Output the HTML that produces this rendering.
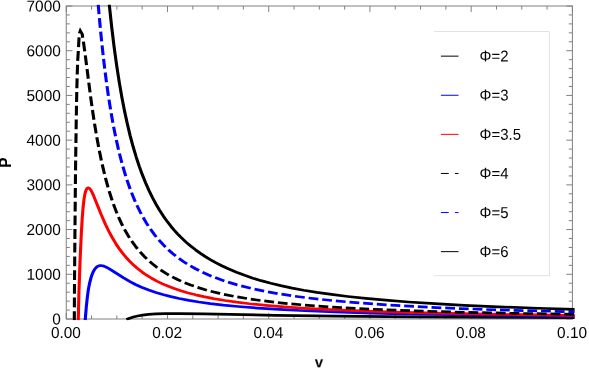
<!DOCTYPE html><html><head><meta charset="utf-8"><title>P-v</title>
<style>html,body{margin:0;padding:0;background:#fff}svg{display:block}text{font-family:"Liberation Sans",sans-serif;font-size:15.8px;fill:#000}</style></head><body>
<svg width="589" height="368" viewBox="0 0 589 368">
<rect width="589" height="368" fill="#fff"/>
<defs><clipPath id="c"><rect x="64.75" y="4.7" width="509.84999999999997" height="315.6"/></clipPath></defs>
<g stroke="#808080" stroke-width="1" fill="none">
<rect x="66.25" y="6.0" width="506.15" height="313.0"/>
<path d="M66.25,319.0v-6.1M66.25,6.0v6.1M91.56,319.0v-3.6M91.56,6.0v3.6M116.86,319.0v-3.6M116.86,6.0v3.6M142.17,319.0v-3.6M142.17,6.0v3.6M167.48,319.0v-6.1M167.48,6.0v6.1M192.79,319.0v-3.6M192.79,6.0v3.6M218.09,319.0v-3.6M218.09,6.0v3.6M243.40,319.0v-3.6M243.40,6.0v3.6M268.71,319.0v-6.1M268.71,6.0v6.1M294.02,319.0v-3.6M294.02,6.0v3.6M319.32,319.0v-3.6M319.32,6.0v3.6M344.63,319.0v-3.6M344.63,6.0v3.6M369.94,319.0v-6.1M369.94,6.0v6.1M395.25,319.0v-3.6M395.25,6.0v3.6M420.56,319.0v-3.6M420.56,6.0v3.6M445.86,319.0v-3.6M445.86,6.0v3.6M471.17,319.0v-6.1M471.17,6.0v6.1M496.48,319.0v-3.6M496.48,6.0v3.6M521.78,319.0v-3.6M521.78,6.0v3.6M547.09,319.0v-3.6M547.09,6.0v3.6M572.40,319.0v-6.1M572.40,6.0v6.1M66.25,319.00h6.1M572.4,319.00h-6.1M66.25,310.06h3.6M572.4,310.06h-3.6M66.25,301.11h3.6M572.4,301.11h-3.6M66.25,292.17h3.6M572.4,292.17h-3.6M66.25,283.23h3.6M572.4,283.23h-3.6M66.25,274.29h6.1M572.4,274.29h-6.1M66.25,265.34h3.6M572.4,265.34h-3.6M66.25,256.40h3.6M572.4,256.40h-3.6M66.25,247.46h3.6M572.4,247.46h-3.6M66.25,238.51h3.6M572.4,238.51h-3.6M66.25,229.57h6.1M572.4,229.57h-6.1M66.25,220.63h3.6M572.4,220.63h-3.6M66.25,211.69h3.6M572.4,211.69h-3.6M66.25,202.74h3.6M572.4,202.74h-3.6M66.25,193.80h3.6M572.4,193.80h-3.6M66.25,184.86h6.1M572.4,184.86h-6.1M66.25,175.91h3.6M572.4,175.91h-3.6M66.25,166.97h3.6M572.4,166.97h-3.6M66.25,158.03h3.6M572.4,158.03h-3.6M66.25,149.09h3.6M572.4,149.09h-3.6M66.25,140.14h6.1M572.4,140.14h-6.1M66.25,131.20h3.6M572.4,131.20h-3.6M66.25,122.26h3.6M572.4,122.26h-3.6M66.25,113.31h3.6M572.4,113.31h-3.6M66.25,104.37h3.6M572.4,104.37h-3.6M66.25,95.43h6.1M572.4,95.43h-6.1M66.25,86.49h3.6M572.4,86.49h-3.6M66.25,77.54h3.6M572.4,77.54h-3.6M66.25,68.60h3.6M572.4,68.60h-3.6M66.25,59.66h3.6M572.4,59.66h-3.6M66.25,50.71h6.1M572.4,50.71h-6.1M66.25,41.77h3.6M572.4,41.77h-3.6M66.25,32.83h3.6M572.4,32.83h-3.6M66.25,23.89h3.6M572.4,23.89h-3.6M66.25,14.94h3.6M572.4,14.94h-3.6M66.25,6.00h6.1M572.4,6.00h-6.1"/>
</g>
<g clip-path="url(#c)"><g transform="scale(1.15,1)" fill="none" stroke-width="2.7" stroke-linejoin="miter" stroke-miterlimit="10">
<path d="M109.91,319.50 112.66,318.20 115.95,316.98 119.66,315.96 123.99,315.11 129.14,314.43 135.53,313.92 143.97,313.62 155.80,313.56 177.16,313.91 239.83,315.30 292.52,316.14 359.46,316.85 452.04,317.46 500.47,317.68" stroke="#000" stroke-linejoin="round"/>
<path d="M74.10,320.20 75.08,306.39 76.07,295.86 76.92,289.04 78.05,282.59 79.16,277.66 80.18,274.16 81.28,271.31 82.36,269.21 83.43,267.70 84.40,266.73 85.45,266.04 86.49,265.66 87.73,265.53 89.17,265.77 90.82,266.37 92.88,267.46 96.18,269.65 107.51,277.91 113.07,281.62 118.22,284.72 123.58,287.45 129.34,290.03 135.53,292.45 142.32,294.76 148.67,296.64 155.80,298.47 164.34,300.36 172.89,301.97 182.86,303.58 194.25,305.11 207.07,306.53 224.16,308.08 242.68,309.44 265.46,310.75 291.10,311.93 322.43,313.03 360.89,314.04 409.31,314.96 471.98,315.79 500.47,316.08" stroke="#0000ff" stroke-linejoin="round"/>
<path d="M68.06,320.20 68.65,292.09 69.70,258.40 70.72,233.44 71.56,217.27 72.33,206.68 73.08,199.16 73.75,194.57 74.41,191.49 75.05,189.61 75.61,188.58 76.14,188.06 76.67,187.89 77.23,188.02 77.90,188.55 78.73,189.66 79.78,191.69 81.35,195.57 83.82,202.65 87.93,214.39 91.85,224.65 94.73,231.50 97.62,237.67 100.50,243.21 103.39,248.20 106.48,253.00 109.57,257.30 112.86,261.40 116.37,265.30 119.87,268.79 123.58,272.09 127.49,275.20 131.82,278.26 136.35,281.10 141.29,283.84 145.83,286.08 151.52,288.57 157.22,290.76 162.92,292.69 170.04,294.82 177.16,296.67 185.71,298.60 195.68,300.52 205.64,302.15 217.04,303.74 231.28,305.40 246.95,306.91 265.46,308.36 286.83,309.70 312.46,310.97 342.37,312.13 379.40,313.21 424.98,314.21 483.38,315.12 500.47,315.34" stroke="#ff0000" stroke-linejoin="round"/>
<path d="M64.61,320.20 64.65,311.28M64.67,307.38 64.72,297.59M64.74,293.69 64.79,283.89M64.82,279.99 64.88,270.19M64.91,266.29 64.98,256.49M65.01,252.59 65.09,242.79M65.12,238.89 65.19,229.09M65.22,225.19 65.30,215.39M65.33,211.49 65.41,201.69M65.44,197.79 65.52,187.99M65.56,184.09 65.65,174.29M65.68,170.39 65.79,160.59M65.83,156.69 65.95,146.89M66.00,142.99 66.13,133.19M66.18,129.29 66.32,119.50M66.38,115.60 66.52,105.80M66.58,101.90 66.75,92.10M66.82,88.20 67.06,78.40M67.16,74.51 67.44,64.71M67.55,60.81 68.10,51.03M68.26,47.14 68.76,37.36M69.09,33.48 69.83,31.00 71.57,34.50 71.93,37.76M72.55,41.63 73.69,51.41M74.18,55.30 75.24,65.08M75.68,68.98 76.77,78.76M77.20,82.65 78.30,92.43M78.75,96.32 79.92,106.09M80.40,109.98 81.67,119.74M82.20,123.62 83.60,133.37M84.19,137.24 85.74,146.96M86.39,150.82 88.14,160.51M88.88,164.36 90.85,174.00M91.69,177.83 93.95,187.36M94.91,191.11 97.28,199.68 97.51,200.47M98.64,204.16 101.03,211.42 101.70,213.34M103.03,216.94 105.60,223.36 106.68,225.84M108.26,229.30 111.04,234.87 112.61,237.78M114.48,241.03 117.50,245.84 119.58,248.87M121.77,251.85 125.20,256.09 127.68,258.90M130.17,261.53 133.88,265.10 136.80,267.67M139.57,269.91 143.97,273.16 146.81,275.06M149.79,276.92 154.37,279.54 157.46,281.15M160.58,282.67 165.77,284.98 168.55,286.12M171.76,287.36 178.58,289.74 179.92,290.17M183.19,291.18 189.98,293.10 191.46,293.49M194.75,294.32 203.07,296.23M206.39,296.92 214.75,298.52M218.09,299.11 226.49,300.46M229.83,300.96 238.25,302.11M241.61,302.54 250.04,303.54M253.40,303.91 261.84,304.77M265.21,305.09 273.66,305.85M277.02,306.13 285.48,306.80M288.85,307.05 297.31,307.64M300.68,307.86 309.15,308.39M312.52,308.59 320.99,309.06M324.36,309.24 332.83,309.66M336.20,309.82 344.67,310.20M348.04,310.35 356.51,310.70M359.89,310.83 368.36,311.15M371.73,311.27 380.21,311.56M383.58,311.67 392.06,311.93M395.43,312.03 403.95,312.28M407.34,312.37 415.86,312.60M419.25,312.69 427.77,312.89M431.16,312.97 439.68,313.17M443.07,313.24 451.59,313.42M454.98,313.49 463.50,313.66M466.89,313.72 475.41,313.88M478.80,313.94 487.32,314.08M490.71,314.14 499.24,314.28" stroke="#000"/>
<path d="M83.80,-18.76 84.17,-13.16M84.43,-9.27 85.11,0.50M85.39,4.38 86.13,14.15M86.43,18.03 87.22,27.79M87.54,31.67 88.39,41.42M88.75,45.30 89.67,55.04M90.05,58.92 91.06,68.65M91.48,72.52 92.58,82.24M93.04,86.10 94.26,95.80M94.77,99.66 96.11,109.33M96.67,113.18 98.16,122.83M98.79,126.66 100.46,136.27M101.17,140.09 103.05,149.64M103.85,153.43 105.98,162.92M106.89,166.68 109.33,176.07M110.38,179.78 112.86,188.01 113.19,189.03M114.39,192.67 116.98,199.96 117.65,201.73M119.05,205.28 121.93,212.04 122.85,214.05M124.48,217.47 127.49,223.30 128.91,225.84M130.80,229.08 134.08,234.24 135.92,236.91M138.10,239.90 141.71,244.46 143.93,247.04M146.39,249.73 150.10,253.48 152.88,256.07M155.59,258.41 160.07,261.99 162.66,263.88M165.57,265.89 170.04,268.74 173.07,270.52M176.12,272.23 181.43,274.98 183.92,276.17M187.08,277.61 192.83,280.03 195.10,280.92M198.32,282.12 205.64,284.63 206.49,284.90M209.77,285.92 218.04,288.27M221.35,289.13 229.69,291.12M233.02,291.86 241.41,293.57M244.76,294.20 253.18,295.68M256.54,296.23 264.99,297.51M268.36,297.99 276.82,299.11M280.19,299.53 288.67,300.52M292.05,300.89 300.53,301.77M303.91,302.10 312.41,302.90M315.79,303.21 324.29,303.93M327.67,304.20 336.17,304.86M339.56,305.10 348.06,305.70M351.45,305.92 359.96,306.46M363.34,306.67 371.85,307.16M375.24,307.35 383.75,307.80M387.14,307.97 395.66,308.38M399.05,308.53 407.56,308.89M410.95,309.02 419.47,309.36M422.86,309.48 431.37,309.79M434.76,309.91 443.28,310.19M446.67,310.30 455.19,310.56M458.58,310.66 467.10,310.91M470.49,311.00 479.01,311.23M482.40,311.32 490.92,311.53M494.31,311.62 500.47,311.76" stroke="#0000ff" stroke-linejoin="round"/>
<path d="M93.08,-18.51 95.15,6.16 97.21,27.94 99.27,47.27 101.53,66.16 103.80,82.94 106.06,97.87 108.33,111.25 110.80,124.35 113.27,136.10 115.75,146.69 118.43,157.03 121.10,166.35 123.78,174.79 126.67,183.01 129.55,190.46 132.64,197.73 135.73,204.34 138.82,210.35 142.12,216.19 145.62,221.84 148.67,226.34 151.52,230.22 154.37,233.83 157.22,237.20 161.49,241.84 165.77,246.04 170.04,249.85 174.31,253.34 178.58,256.60 182.86,259.60 187.13,262.37 192.83,265.73 198.52,268.78 205.64,272.24 212.77,275.35 219.89,278.15 227.01,280.66 235.55,283.29 244.10,285.64 254.07,288.07 264.04,290.21 275.43,292.34 288.25,294.44 302.49,296.47 318.16,298.39 335.25,300.18 355.19,301.97 377.98,303.68 403.62,305.29 433.53,306.83 467.71,308.26 500.47,309.39" stroke="#000" stroke-linejoin="round"/>
</g></g>
<g opacity="0.999">
<text transform="translate(65.95,337.90) rotate(0.03) scale(0.9750,1)" text-anchor="middle">0.00</text>
<text transform="translate(167.18,337.90) rotate(0.03) scale(0.9750,1)" text-anchor="middle">0.02</text>
<text transform="translate(268.41,337.90) rotate(0.03) scale(0.9750,1)" text-anchor="middle">0.04</text>
<text transform="translate(369.64,337.90) rotate(0.03) scale(0.9750,1)" text-anchor="middle">0.06</text>
<text transform="translate(470.87,337.90) rotate(0.03) scale(0.9750,1)" text-anchor="middle">0.08</text>
<text transform="translate(572.10,337.90) rotate(0.03) scale(0.9750,1)" text-anchor="middle">0.10</text>
<text transform="translate(60.80,324.50) rotate(0.03) scale(0.9750,1)" text-anchor="end">0</text>
<text transform="translate(60.80,279.79) rotate(0.03) scale(0.9750,1)" text-anchor="end">1000</text>
<text transform="translate(60.80,235.07) rotate(0.03) scale(0.9750,1)" text-anchor="end">2000</text>
<text transform="translate(60.80,190.36) rotate(0.03) scale(0.9750,1)" text-anchor="end">3000</text>
<text transform="translate(60.80,145.64) rotate(0.03) scale(0.9750,1)" text-anchor="end">4000</text>
<text transform="translate(60.80,100.93) rotate(0.03) scale(0.9750,1)" text-anchor="end">5000</text>
<text transform="translate(60.80,56.21) rotate(0.03) scale(0.9750,1)" text-anchor="end">6000</text>
<text transform="translate(60.80,11.50) rotate(0.03) scale(0.9750,1)" text-anchor="end">7000</text>
<text transform="translate(319.05,367.30) rotate(0.03)" text-anchor="middle" style="font-weight:bold;font-size:15px">v</text>
<text transform="translate(10.90,162.70) rotate(-90) scale(0.9750,1)" text-anchor="middle" style="font-weight:bold">P</text>
<path d="M434,31.5H549.5V275.7H434" fill="none" stroke="#e2e2e2" stroke-width="1"/>
<path d="M440.9,56.15H458.5" stroke="#000" stroke-width="1" fill="none"/>
<text transform="translate(479.60,61.50) rotate(0.03) scale(0.9457,1)" text-anchor="start">Φ=2</text>
<path d="M440.9,95.25H458.5" stroke="#0000ff" stroke-width="1" fill="none"/>
<text transform="translate(479.60,100.60) rotate(0.03) scale(0.9457,1)" text-anchor="start">Φ=3</text>
<path d="M440.9,134.35H458.5" stroke="#ff0000" stroke-width="1" fill="none"/>
<text transform="translate(479.60,139.70) rotate(0.03) scale(0.9457,1)" text-anchor="start">Φ=3.5</text>
<path d="M440.9,173.45H458.5" stroke="#000" stroke-width="1" fill="none" stroke-dasharray="7.8 6.2"/>
<text transform="translate(479.60,178.80) rotate(0.03) scale(0.9457,1)" text-anchor="start">Φ=4</text>
<path d="M440.9,212.55H458.5" stroke="#0000ff" stroke-width="1" fill="none" stroke-dasharray="7.8 6.2"/>
<text transform="translate(479.60,217.90) rotate(0.03) scale(0.9457,1)" text-anchor="start">Φ=5</text>
<path d="M440.9,251.65H458.5" stroke="#000" stroke-width="1" fill="none"/>
<text transform="translate(479.60,257.00) rotate(0.03) scale(0.9457,1)" text-anchor="start">Φ=6</text>
</g>
</svg></body></html>
